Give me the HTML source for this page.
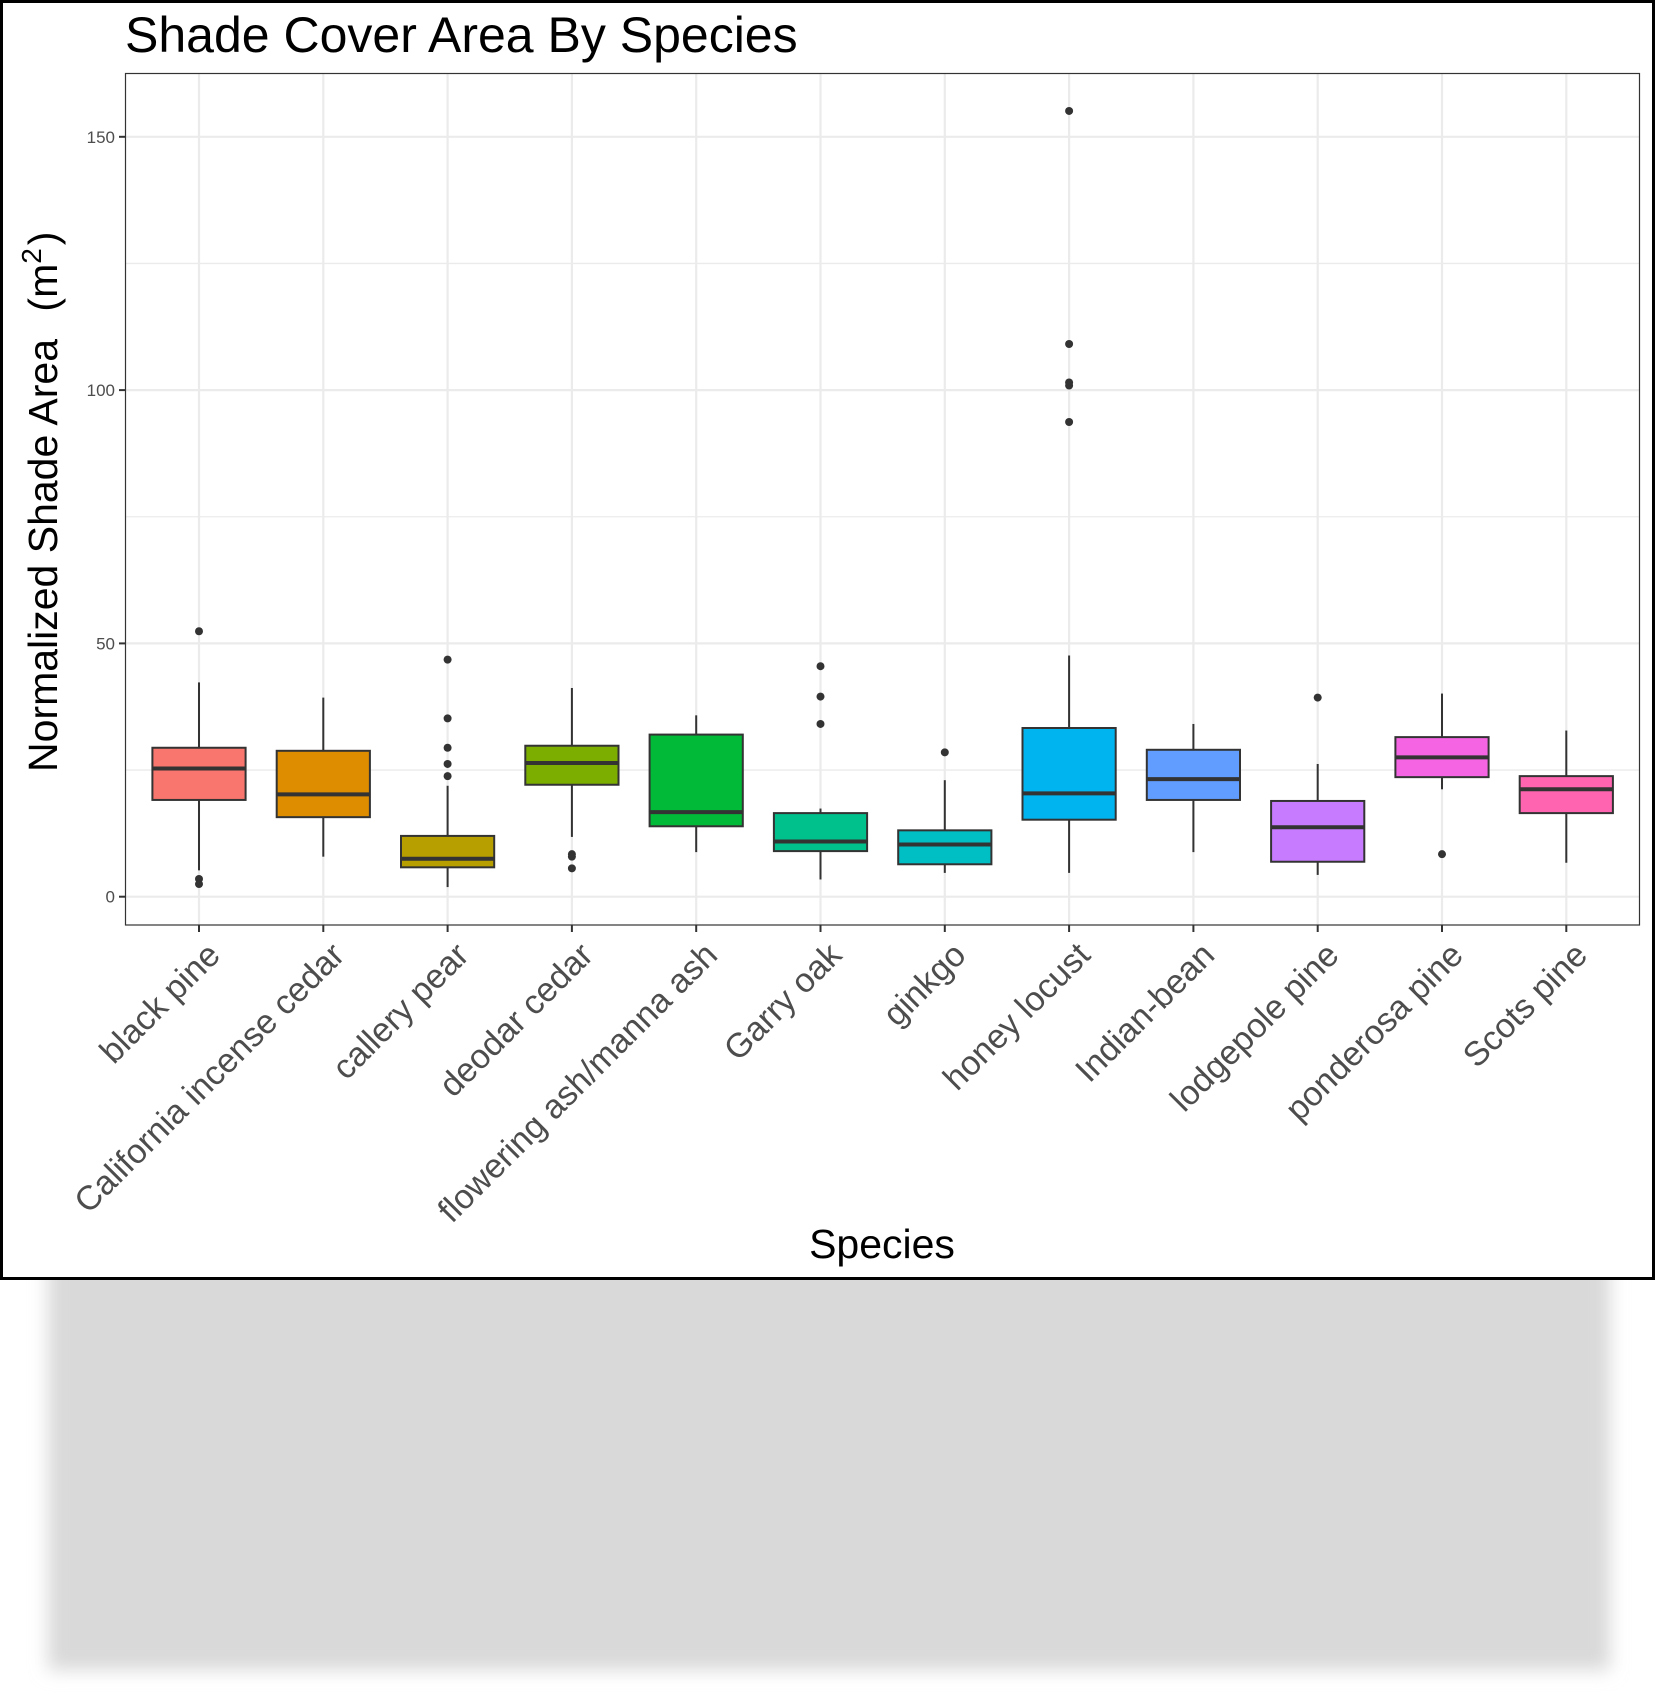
<!DOCTYPE html>
<html><head><meta charset="utf-8"><style>
html,body{margin:0;padding:0;background:#fff;}
svg{display:block;font-family:"Liberation Sans",Arial,sans-serif;}
</style></head><body>
<svg id="chart" width="1656" height="1706" viewBox="0 0 1656 1706">
<defs><filter id="blur" x="-10%" y="-10%" width="120%" height="120%"><feGaussianBlur stdDeviation="9"/></filter></defs>
<rect x="48" y="1240" width="1562" height="430" fill="#d9d9d9" filter="url(#blur)"/>
<rect x="1.5" y="1.5" width="1652" height="1277" fill="#fff" stroke="#000" stroke-width="3"/>
<text x="125" y="52" font-size="50" fill="#000">Shade Cover Area By Species</text>
<g id="grid"></g>
<g id="boxes"></g>
<rect x="125.5" y="73.5" width="1514" height="851.5" fill="none" stroke="#333" stroke-width="1.2"/>
<g id="axes"></g>
<text transform="translate(57,772) rotate(-90)" font-size="41" fill="#000">Normalized Shade Area <tspan dx="16">(m</tspan><tspan font-size="28" dy="-16">2</tspan><tspan dy="16" dx="3">)</tspan></text>
<text x="882" y="1258" font-size="41" text-anchor="middle" fill="#000">Species</text>
</svg>
<script>
const categories = ["black pine","California incense cedar","callery pear","deodar cedar","flowering ash/manna ash","Garry oak","ginkgo","honey locust","Indian-bean","lodgepole pine","ponderosa pine","Scots pine"];
const lowerWhisker = [5.2,7.9,1.9,11.8,8.8,3.4,4.7,4.7,8.8,4.3,21.2,6.7];
const q1 = [19.1,15.7,5.8,22.1,13.9,9.0,6.4,15.2,19.1,6.9,23.6,16.5];
const median = [25.3,20.2,7.5,26.4,16.7,10.9,10.3,20.4,23.2,13.7,27.5,21.2];
const q3 = [29.4,28.8,12.0,29.8,32.0,16.5,13.1,33.3,29.0,18.9,31.5,23.8];
const upperWhisker = [42.3,39.3,21.9,41.2,35.8,17.4,23.0,47.6,34.1,26.2,40.1,32.8];
const outliers = [[52.4,3.5,2.5],[],[46.8,35.2,29.4,26.2,23.8],[8.4,7.9,5.6],[],[45.5,39.5,34.1],[28.5],[155.1,109.1,101.5,100.9,93.7],[],[39.3],[8.4],[]];
const colors = ["#F8766D","#DE8C00","#B79F00","#7CAE00","#00BA38","#00C08B","#00BFC4","#00B4F0","#619CFF","#C77CFF","#F564E3","#FF64B0"];
const majorTicks = [0,50,100,150];
const minorTicks = [25,75,125];

const NS="http://www.w3.org/2000/svg";
const X0=199, DX=124.3, Y0=896.7, PX=5.066;
function xs(i){return X0+i*DX;}
function ys(v){return Y0-v*PX;}
function mk(tag,attrs,parent){const e=document.createElementNS(NS,tag);for(const k in attrs)e.setAttribute(k,attrs[k]);parent.appendChild(e);return e;}
const grid=document.getElementById('grid'),boxes=document.getElementById('boxes'),axes=document.getElementById('axes');
minorTicks.forEach(v=>{const l=mk('line',{x1:126,x2:1639,y1:ys(v),y2:ys(v),stroke:'#ebebeb','stroke-width':1.3},grid);

});
majorTicks.forEach(v=>{const l=mk('line',{x1:126,x2:1639,y1:ys(v),y2:ys(v),stroke:'#ebebeb','stroke-width':2.2},grid);


const t=mk('line',{x1:119,x2:125,y1:ys(v),y2:ys(v),stroke:'#333','stroke-width':2},axes);


const tx=mk('text',{x:115,y:ys(v)+6,'font-size':17,'text-anchor':'end',fill:'#4d4d4d'},axes);tx.textContent=v;

});
categories.forEach((c,i)=>{const x=xs(i);
const g=mk('line',{x1:x,x2:x,y1:74,y2:925,stroke:'#ebebeb','stroke-width':2.2},grid);


const grp=mk('g',{},boxes);


const hw=46.6;
mk('line',{x1:x,x2:x,y1:ys(upperWhisker[i]),y2:ys(q3[i]),stroke:'#333','stroke-width':2},grp);
mk('line',{x1:x,x2:x,y1:ys(q1[i]),y2:ys(lowerWhisker[i]),stroke:'#333','stroke-width':2},grp);
mk('rect',{x:x-hw,y:ys(q3[i]),width:2*hw,height:ys(q1[i])-ys(q3[i]),fill:colors[i],stroke:'#333','stroke-width':2},grp);
mk('line',{x1:x-hw,x2:x+hw,y1:ys(median[i]),y2:ys(median[i]),stroke:'#333','stroke-width':4},grp);
outliers[i].forEach(v=>{const d=mk('circle',{cx:x,cy:ys(v),r:4,fill:'#333'},grp);

});
const t=mk('line',{x1:x,x2:x,y1:925,y2:932,stroke:'#333','stroke-width':2},axes);


const tx=mk('text',{'font-size':34,'text-anchor':'end',fill:'#4d4d4d',transform:'translate('+(x+23)+',957) rotate(-45)'},axes);tx.textContent=c;

});
</script>
</body></html>
